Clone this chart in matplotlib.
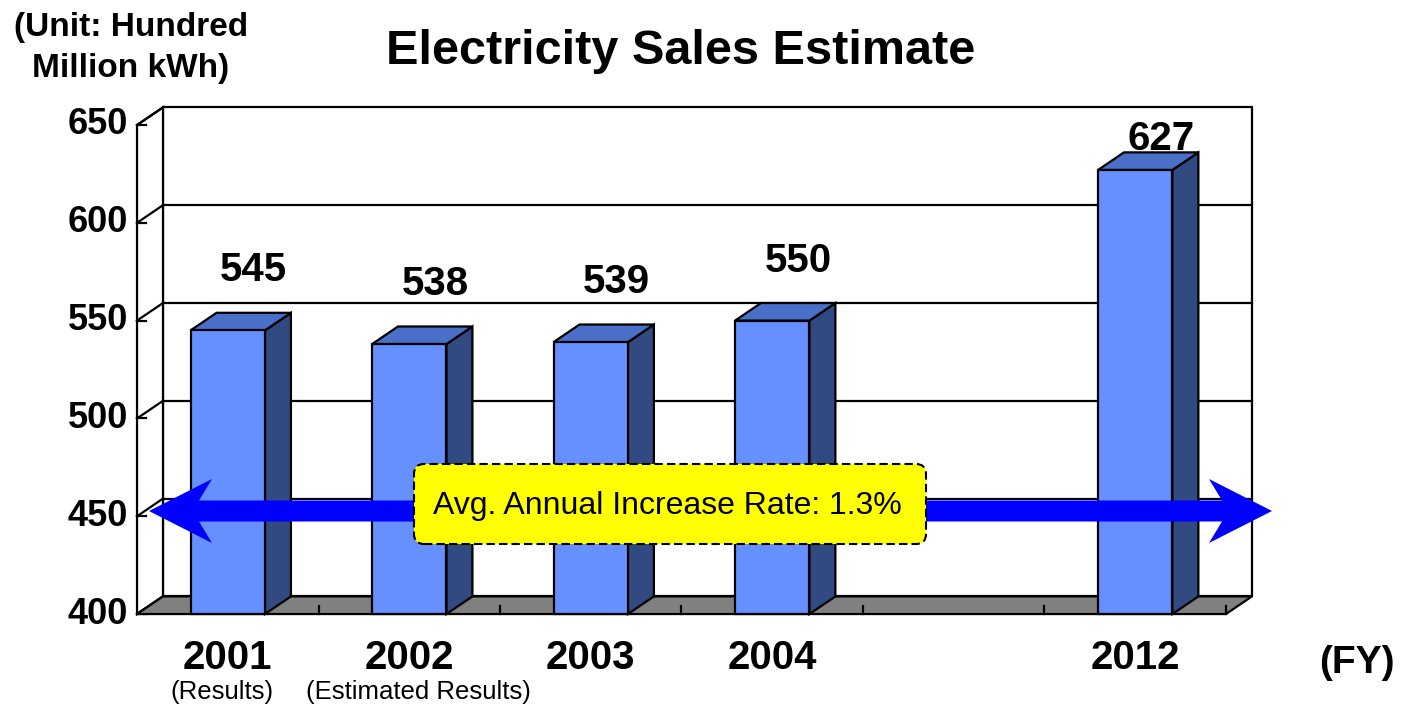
import numpy as np
import matplotlib
matplotlib.use("Agg")
import matplotlib.pyplot as plt
from matplotlib.patches import Polygon, FancyBboxPatch

plt.rcParams['font.family'] = ['Liberation Sans', 'DejaVu Sans']

years = ['2001', '2002', '2003', '2004', '', '2012']
notes = ['(Results)', '(Estimated Results)', '', '', '', '']
note_shift = [-0.03, 0.05, 0, 0, 0, 0]
sales = [545, 538, 539, 550, None, 627]
yticks = [400, 450, 500, 550, 600, 650]

front_c = '#6690FF'
top_c = '#4A6FC8'
side_c = '#324A82'
floor_c = '#808080'

ymin, ymax = 400, 650
n = len(years)
dx, dy = 0.143, 9.0      # depth offset of the pseudo-3D box
bw = 0.41

fig = plt.figure(figsize=(14.02, 7.05), dpi=100)
ax = fig.add_axes([0, 0, 1, 1])
ax.set_xlim(-0.755, 6.97)
ax.set_ylim(353.5, 713.9)
ax.axis('off')

lw = 1.6
# back wall and gridlines
ax.add_patch(Polygon([(dx, ymin + dy), (n + dx, ymin + dy), (n + dx, ymax + dy), (dx, ymax + dy)],
                     closed=True, fc='white', ec='black', lw=lw, zorder=1))
for v in yticks[1:-1]:
    ax.plot([dx, n + dx], [v + dy, v + dy], color='black', lw=lw, zorder=1.1)
# left side wall
ax.add_patch(Polygon([(0, ymin), (dx, ymin + dy), (dx, ymax + dy), (0, ymax)],
                     closed=True, fc='white', ec='black', lw=lw, zorder=1.2))
for v in yticks:
    ax.plot([0, dx], [v, v + dy], color='black', lw=lw, zorder=1.3)
    ax.plot([0, 0.05], [v, v], color='black', lw=lw, zorder=1.3)
    ax.text(-0.05, v, str(v), ha='right', va='center', fontsize=26, fontweight='bold')
# floor
ax.add_patch(Polygon([(0, ymin), (n, ymin), (n + dx, ymin + dy), (dx, ymin + dy)],
                     closed=True, fc=floor_c, ec='black', lw=lw, zorder=1.4))
for i in range(1, n + 1):
    ax.plot([i, i], [ymin, ymin + 4], color='black', lw=lw, zorder=1.5)

# bars
xs = np.arange(n) + 0.5
for x, v in zip(xs, sales):
    if v is None:
        continue
    l, r = x - bw / 2, x + bw / 2
    ax.add_patch(Polygon([(r, ymin), (r + dx, ymin + dy), (r + dx, v + dy), (r, v)],
                         closed=True, fc=side_c, ec='black', lw=lw, zorder=2))
    ax.add_patch(Polygon([(l, v), (r, v), (r + dx, v + dy), (l + dx, v + dy)],
                         closed=True, fc=top_c, ec='black', lw=lw, zorder=2))
    ax.bar(x, v - ymin, bottom=ymin, width=bw, color=front_c, edgecolor='black', lw=lw, zorder=2.1)
    ax.text(x + dx, min(v + dy + 12, 633), str(v), ha='center', va='bottom',
            fontsize=29, fontweight='bold', zorder=5)

for x, yr, note, sh in zip(xs, years, notes, note_shift):
    ax.text(x, 377.5, yr, ha='center', va='center', fontsize=29, fontweight='bold')
    if note:
        ax.text(x + sh, 360, note, ha='center', va='center', fontsize=18.5)

# double-headed arrow and rate box (in inches)
tr = fig.dpi_scale_trans
x0, x1, yc = 1.49, 12.72, 1.94
sh, hh, hl, nk = 0.105, 0.32, 0.63, 0.50
arrow = [(x0, yc), (x0 + hl, yc + hh), (x0 + nk, yc + sh), (x1 - nk, yc + sh), (x1 - hl, yc + hh),
         (x1, yc), (x1 - hl, yc - hh), (x1 - nk, yc - sh), (x0 + nk, yc - sh), (x0 + hl, yc - hh)]
ax.add_patch(Polygon(arrow, closed=True, fc='#0000FF', ec='none', transform=tr, zorder=3))
ax.add_patch(FancyBboxPatch((4.14, 1.61), 5.12, 0.80, boxstyle='round,pad=0,rounding_size=0.1',
                            fc='#FFFF00', ec='black', lw=1.5, ls=(0, (4, 2)), transform=tr, zorder=4))
ax.text(6.67, 1.99, 'Avg. Annual Increase Rate: 1.3%', ha='center', va='center',
        fontsize=23, transform=tr, zorder=5)

fig.text(681 / 1402, 1 - 51 / 705, 'Electricity Sales Estimate', ha='center', va='center',
         fontsize=35, fontweight='bold')
fig.text(131 / 1402, 1 - 48 / 705, '(Unit: Hundred\nMillion kWh)', ha='center', va='center',
         fontsize=24, fontweight='bold', linespacing=1.45)
fig.text(1357 / 1402, 1 - 663 / 705, '(FY)', ha='center', va='center', fontsize=28, fontweight='bold')

fig.savefig('out.png', dpi=100)
